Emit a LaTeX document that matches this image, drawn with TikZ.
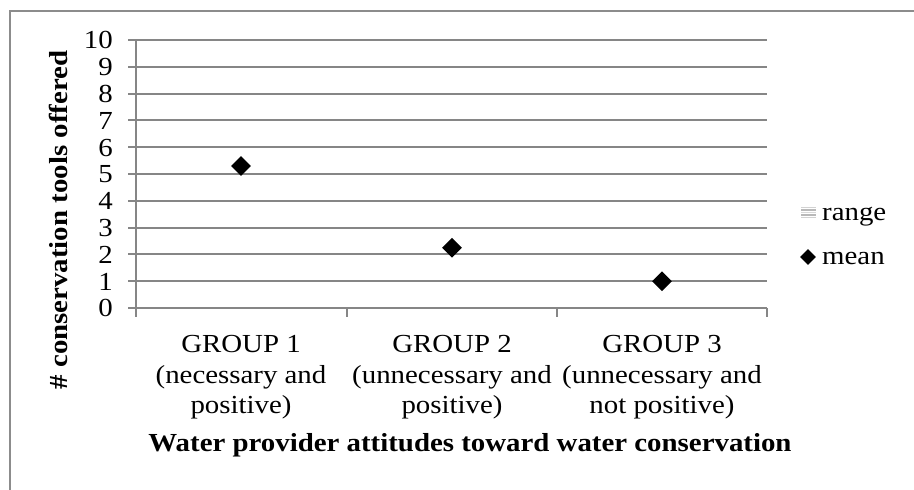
\documentclass[tikz,border=0pt]{standalone}
\usepackage{fontspec}
\setmainfont{Liberation Serif}[FakeStretch=1.11]
\usetikzlibrary{shapes.geometric}
\definecolor{gridc}{RGB}{134,134,134}
\definecolor{framec}{RGB}{140,140,140}
\tikzset{
  gridline/.style={draw=gridc, line width=2pt},
  ticklbl/.style={anchor=base east, inner sep=0pt},
  catlbl/.style={anchor=base, inner sep=0pt},
  meanpt/.style={diamond, fill=black, inner sep=0pt, minimum width=20pt, minimum height=20pt},
  axtitle/.style={inner sep=0pt, font=\bfseries}
}
\begin{document}
\begin{tikzpicture}[x=1pt, y=-1pt]
\fontsize{26}{30.5}\selectfont
\useasboundingbox (0,0) rectangle (914,490);
% outer frame (top and left visible)
\draw[framec, line width=1.5pt] (10,490) -- (10,11) -- (914,11);
% gridlines
\foreach \v in {1,...,10} {
  \draw[gridline] (128,{308-26.8*\v}) -- (767,{308-26.8*\v});
}
% axes
\draw[gridline] (136,{308-26.8*10}) -- (136,317);
\draw[gridline] (128,308) -- (767,308);
\foreach \xx in {347,557,767} {
  \draw[gridline] (\xx,308) -- (\xx,317);
}
% tick labels
\foreach \v in {0,...,10} {
  \node[ticklbl] (t\v) at (113,{308-26.8*\v+8.8}) {\v};
}
% category labels
\node[catlbl] (g1a) at (241,352) {GROUP 1};
\node[catlbl] (g1b) at (241,383) {(necessary and};
\node[catlbl] (g1c) at (241,413) {positive)};
\node[catlbl] (g2a) at (452,352) {GROUP 2};
\node[catlbl] (g2b) at (452,383) {(unnecessary and};
\node[catlbl] (g2c) at (452,413) {positive)};
\node[catlbl] (g3a) at (662,352) {GROUP 3};
\node[catlbl] (g3b) at (662,383) {(unnecessary and};
\node[catlbl] (g3c) at (662,413) {not positive)};
% axis titles
\node[axtitle, anchor=base] (xt) at (470,451) {Water provider attitudes toward water conservation};
\node[axtitle, rotate=90] (yt) at (58,220) {\# conservation tools offered};
% data (means)
\node[meanpt] (m1) at (241,{308-26.8*5.3}) {};
\node[meanpt] (m2) at (452,{308-26.8*2.25}) {};
\node[meanpt] (m3) at (662,{308-26.8*1.0}) {};
% legend
\foreach \yy/\cc in {207.5/gray!35, 210/gray!55, 212.5/gray!30, 215/gray!55, 217.5/gray!35} {
  \draw[\cc, line width=1.6pt] (801,\yy) -- (816,\yy);
}
\coordinate (rangeicon) at (808,212.5);
\node[anchor=base west, inner sep=0pt] (lr) at (822,220) {range};
\node[meanpt, minimum width=16pt, minimum height=16pt] (lm) at (808,257) {};
\node[anchor=base west, inner sep=0pt] (lmt) at (822,264) {mean};
\end{tikzpicture}
\end{document}
